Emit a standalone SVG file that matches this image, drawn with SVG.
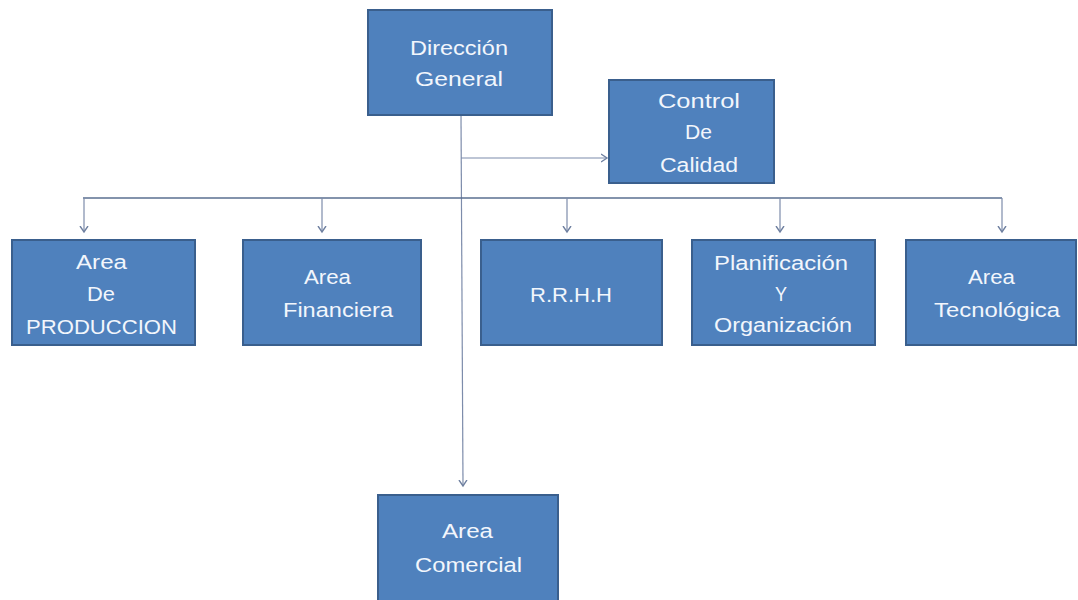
<svg xmlns="http://www.w3.org/2000/svg" width="1078" height="600" viewBox="0 0 1078 600">
<style>
.box{fill:#4f81bd;stroke:#3a5f8d;stroke-width:2}
.t{font-family:"Liberation Sans",Arial,sans-serif;font-size:20px;fill:#f2f6fc}
.c{fill:none;stroke:#7d8cab;stroke-width:1.2}
.bus{fill:none;stroke:#5a6f91;stroke-width:1.5}
</style>
<defs>
<marker id="ah" markerUnits="userSpaceOnUse" markerWidth="12" markerHeight="12" refX="6" refY="5" orient="auto" viewBox="0 0 12 10">
<path d="M0,1 L6,5 L0,9" fill="none" stroke="#6f80a0" stroke-width="1.4"/>
</marker>
</defs>
<rect width="1078" height="600" fill="#ffffff"/>
<g id="connectors">
<line class="c" x1="461" y1="115" x2="463" y2="486" marker-end="url(#ah)"/>
<line class="c" x1="461" y1="158" x2="607" y2="158" marker-end="url(#ah)"/>
<line class="bus" x1="83" y1="198" x2="1002" y2="198"/>
<line class="c" x1="84" y1="198" x2="84" y2="232" marker-end="url(#ah)"/>
<line class="c" x1="322" y1="198" x2="322" y2="232" marker-end="url(#ah)"/>
<line class="c" x1="567" y1="198" x2="567" y2="232" marker-end="url(#ah)"/>
<line class="c" x1="780" y1="198" x2="780" y2="232" marker-end="url(#ah)"/>
<line class="c" x1="1002" y1="198" x2="1002" y2="232" marker-end="url(#ah)"/>
</g>
<g id="direccion">
<rect class="box" x="368" y="10" width="184" height="105"/>
<text class="t" x="410" y="55" textLength="98" lengthAdjust="spacingAndGlyphs">Dirección</text>
<text class="t" x="415" y="86" textLength="88" lengthAdjust="spacingAndGlyphs">General</text>
</g>
<g id="control">
<rect class="box" x="609" y="80" width="165" height="103"/>
<text class="t" x="658" y="108" textLength="82" lengthAdjust="spacingAndGlyphs">Control</text>
<text class="t" x="685" y="139" textLength="27" lengthAdjust="spacingAndGlyphs">De</text>
<text class="t" x="660" y="172" textLength="78" lengthAdjust="spacingAndGlyphs">Calidad</text>
</g>
<g id="produccion">
<rect class="box" x="12" y="240" width="183" height="105"/>
<text class="t" x="76" y="269" textLength="51" lengthAdjust="spacingAndGlyphs">Area</text>
<text class="t" x="87" y="301" textLength="28" lengthAdjust="spacingAndGlyphs">De</text>
<text class="t" x="26" y="334" textLength="151" lengthAdjust="spacingAndGlyphs">PRODUCCION</text>
</g>
<g id="financiera">
<rect class="box" x="243" y="240" width="178" height="105"/>
<text class="t" x="304" y="284" textLength="47" lengthAdjust="spacingAndGlyphs">Area</text>
<text class="t" x="283" y="317" textLength="110" lengthAdjust="spacingAndGlyphs">Financiera</text>
</g>
<g id="rrhh">
<rect class="box" x="481" y="240" width="181" height="105"/>
<text class="t" x="530" y="302" textLength="82" lengthAdjust="spacingAndGlyphs">R.R.H.H</text>
</g>
<g id="planificacion">
<rect class="box" x="692" y="240" width="183" height="105"/>
<text class="t" x="714" y="270" textLength="134" lengthAdjust="spacingAndGlyphs">Planificación</text>
<text class="t" x="775" y="301" textLength="12" lengthAdjust="spacingAndGlyphs">Y</text>
<text class="t" x="714" y="332" textLength="138" lengthAdjust="spacingAndGlyphs">Organización</text>
</g>
<g id="tecnologica">
<rect class="box" x="906" y="240" width="170" height="105"/>
<text class="t" x="968" y="284" textLength="47" lengthAdjust="spacingAndGlyphs">Area</text>
<text class="t" x="934" y="317" textLength="126" lengthAdjust="spacingAndGlyphs">Tecnológica</text>
</g>
<g id="comercial">
<rect class="box" x="378" y="495" width="180" height="110"/>
<text class="t" x="442" y="538" textLength="51" lengthAdjust="spacingAndGlyphs">Area</text>
<text class="t" x="415" y="572" textLength="107" lengthAdjust="spacingAndGlyphs">Comercial</text>
</g>
</svg>
